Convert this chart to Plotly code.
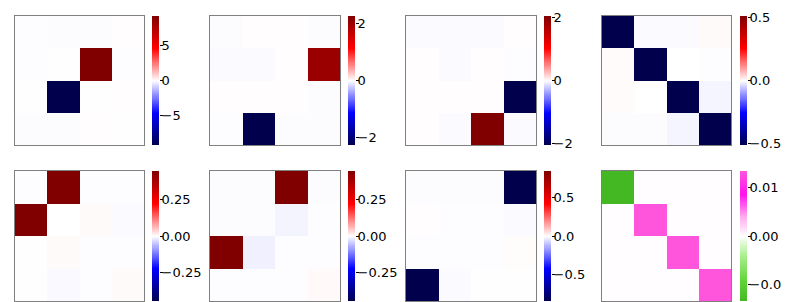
import plotly.graph_objects as go
import numpy as np

# 4x4 matrices, row 0 at top
m1 = [[-0.03, -0.06, -0.05, 0.03],
      [-0.03, 0.01, 9.2, -0.03],
      [0.02, -9.2, 0.02, 0.03],
      [-0.05, -0.06, 0.03, 0.02]]
m2 = [[-0.015, 0.008, 0.008, -0.015],
      [-0.02, -0.02, 0.008, 2.05],
      [0.008, 0.008, 0.008, -0.015],
      [-0.008, -2.28, -0.015, -0.015]]
m3 = [[-0.015, -0.015, -0.015, 0.008],
      [0.008, -0.02, 0.008, -0.008],
      [0.008, 0.008, 0.008, -2.06],
      [0.008, -0.015, 2.06, -0.02]]
m4 = [[-0.51, -0.004, -0.004, 0.005],
      [0.004, -0.51, 0.0, -0.002],
      [0.004, 0.0, -0.51, -0.01],
      [-0.003, -0.003, -0.01, -0.51]]
m5 = [[-0.002, 0.45, -0.002, -0.002],
      [0.45, 0.0, 0.004, -0.004],
      [0.001, 0.004, -0.002, -0.002],
      [-0.001, -0.005, -0.002, 0.004]]
m6 = [[-0.003, -0.003, 0.45, -0.003],
      [-0.003, -0.003, -0.01, -0.002],
      [0.45, -0.013, -0.002, -0.002],
      [-0.002, -0.002, -0.002, 0.005]]
m7 = [[-0.005, -0.005, -0.005, -0.84],
      [0.003, -0.003, -0.003, -0.009],
      [-0.003, -0.003, -0.003, 0.005],
      [-0.84, -0.008, 0.001, 0.001]]
m8 = [[-0.0133, 0.0001, 0.0001, 0.0001],
      [0.0001, 0.0133, 0.0001, 0.0001],
      [0.0001, 0.0001, 0.0133, 0.0001],
      [0.0001, 0.0001, 0.0001, 0.0133]]

tickvals_list = [[-5, 0, 5], [-2, 0, 2], [-2, 0, 2], [-0.5, 0, 0.5],
                 [-0.25, 0, 0.25], [-0.25, 0, 0.25], [-0.5, 0, 0.5], [-0.01, 0, 0.01]]
tickfmt_list = ["d", "d", "d", ".1f", ".2f", ".2f", ".1f", ".2f"]
matrices = [m1, m2, m3, m4, m5, m6, m7, m8]

seismic = [[0, '#00004c'], [0.25, '#0000ff'], [0.5, '#ffffff'],
           [0.75, '#ff0000'], [1, '#800000']]
green_magenta = [[0, '#44b823'], [0.15, '#5fd335'], [0.35, '#a8ef8e'],
                 [0.5, '#ffffff'], [0.65, '#ffaaee'], [0.82, '#ff11ee'],
                 [1, '#ff55dd']]

W, H = 789, 302
panel_x = [(7, 136), (202, 332), (398, 528), (594, 723)]
cbar_x = [144, 340, 536, 732]
CB_W = 7
row_y = [(8, 137), (163, 293)]

fig = go.Figure()
for i, m in enumerate(matrices):
    r, c = divmod(i, 4)
    z = np.array(m)
    vmax = float(np.abs(z).max())
    cs = green_magenta if i == 7 else seismic
    x0, x1 = panel_x[c]
    y0, y1 = row_y[r]
    ydom = [1 - y1 / H, 1 - y0 / H]
    ax = "" if i == 0 else str(i + 1)
    cax = str(i + 9)
    # matrix
    fig.add_trace(go.Heatmap(
        z=z, zmin=-vmax, zmax=vmax, colorscale=cs, showscale=False,
        xaxis="x" + ax, yaxis="y" + ax, hoverinfo="skip",
    ))
    axis_common = dict(showticklabels=False, ticks="", showgrid=False, zeroline=False,
                       showline=True, mirror=True, linecolor="#808080", linewidth=1,
                       automargin=False)
    fig.update_layout(**{
        "xaxis" + ax: dict(domain=[x0 / W, x1 / W], range=[-0.5, 3.5],
                           anchor="y" + ax, **axis_common),
        "yaxis" + ax: dict(domain=ydom, range=[3.5, -0.5],
                           anchor="x" + ax, **axis_common),
    })
    # colour bar drawn as a thin gradient heatmap on its own axes
    grad = np.linspace(-vmax, vmax, 256)
    fig.add_trace(go.Heatmap(
        z=grad.reshape(-1, 1), y=grad, x=[0], zmin=-vmax, zmax=vmax,
        colorscale=cs, showscale=False, hoverinfo="skip",
        xaxis="x" + cax, yaxis="y" + cax,
    ))
    fig.update_layout(**{
        "xaxis" + cax: dict(domain=[cbar_x[c] / W, (cbar_x[c] + CB_W) / W],
                            range=[-0.5, 0.5], anchor="y" + cax,
                            showticklabels=False, ticks="", showgrid=False,
                            zeroline=False, showline=False, automargin=False),
        "yaxis" + cax: dict(domain=ydom, range=[-vmax, vmax], anchor="x" + cax,
                            side="right", showgrid=False, zeroline=False,
                            showline=False, tickvals=tickvals_list[i],
                            tickformat=tickfmt_list[i], ticks="outside",
                            ticklen=3, tickwidth=1, tickcolor="#000",
                            ticklabelstandoff=-4, automargin=False,
                            tickfont=dict(family="DejaVu Sans", size=13,
                                          color="#000")),
    })

fig.update_layout(width=W, height=H, margin=dict(l=0, r=0, t=0, b=0, autoexpand=False),
                  paper_bgcolor="white", plot_bgcolor="white",
                  font=dict(family="DejaVu Sans"))
fig.write_html("out.html")
